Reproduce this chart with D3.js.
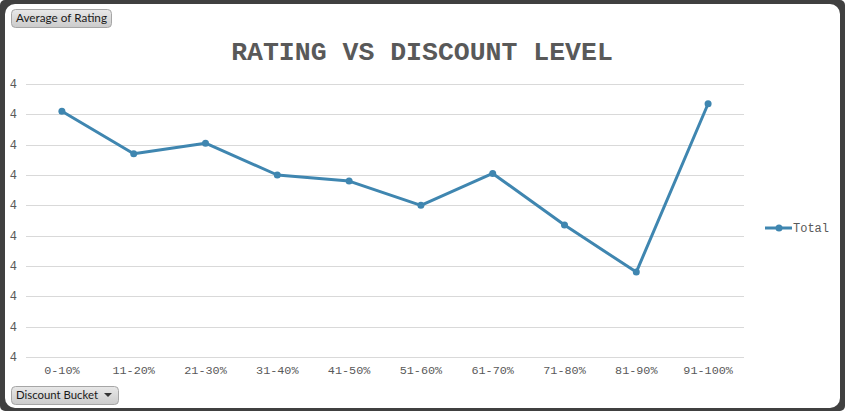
<!DOCTYPE html>
<html><head><meta charset="utf-8">
<script src="https://cdn.jsdelivr.net/npm/d3@7"></script>
<style>
html,body{margin:0;padding:0;background:#ffffff;}
svg{display:block;}
</style></head>
<body>
<script>
const categories = ["0-10%","11-20%","21-30%","31-40%","41-50%","51-60%","61-70%","71-80%","81-90%","91-100%"];
const ratingValues = [4.082,4.054,4.061,4.040,4.036,4.020,4.041,4.007,3.976,4.087];
const yTicks = [3.92,3.94,3.96,3.98,4.00,4.02,4.04,4.06,4.08,4.10];
const seriesName = "Total";
const title = "RATING VS DISCOUNT LEVEL";
const valueButton = "Average of Rating";
const axisButton = "Discount Bucket";

const W = 845, H = 411;
const color = "#3f86b0";
const mono = "'Liberation Mono','Courier New',monospace";
const ui = "Lato,'Open Sans','DejaVu Sans',sans-serif";

const svg = d3.select("body").append("svg").attr("width", W).attr("height", H);
const defs = svg.append("defs");
const grad = defs.append("linearGradient").attr("id","btn").attr("x1",0).attr("y1",0).attr("x2",0).attr("y2",1);
grad.append("stop").attr("offset","0%").attr("stop-color","#e8e8e8");
grad.append("stop").attr("offset","100%").attr("stop-color","#cbcbcb");

// frame
svg.append("rect").attr("x",0).attr("y",0).attr("width",W).attr("height",H).attr("rx",5).attr("fill","#404040");
svg.append("rect").attr("x",5).attr("y",4).attr("width",W-10).attr("height",H-7).attr("rx",10).attr("fill","#ffffff");

const x = d3.scaleBand().domain(categories).range([26, 744]).padding(0);
const y = d3.scaleLinear().domain([3.92, 4.10]).range([357, 84]);

// gridlines
svg.append("g").selectAll("line").data(yTicks).join("line")
  .attr("x1",26).attr("x2",744)
  .attr("y1",d=>Math.round(y(d))+0.5).attr("y2",d=>Math.round(y(d))+0.5)
  .attr("stroke","#d9d9d9").attr("stroke-width",1);

// y axis labels
const fmt = d3.format(".0f");
svg.append("g").selectAll("text").data(yTicks).join("text")
  .attr("x",17).attr("y",d=>y(d)+4)
  .attr("text-anchor","end")
  .attr("font-family",mono).attr("font-size",12).attr("fill","#595959")
  .text(d=>fmt(d));

// x axis labels
svg.append("g").selectAll("text").data(categories).join("text")
  .attr("x",d=>x(d)+x.bandwidth()/2).attr("y",374)
  .attr("text-anchor","middle")
  .attr("font-family",mono).attr("font-size",11.8).attr("fill","#595959")
  .text(d=>d);

// line
const pts = categories.map((c,i)=>({c, v: ratingValues[i]}));
const line = d3.line().x(d=>x(d.c)+x.bandwidth()/2).y(d=>y(d.v));
svg.append("path").datum(pts).attr("d",line)
  .attr("fill","none").attr("stroke",color).attr("stroke-width",3)
  .attr("stroke-linejoin","round").attr("stroke-linecap","round");
svg.append("g").selectAll("circle").data(pts).join("circle")
  .attr("cx",d=>x(d.c)+x.bandwidth()/2).attr("cy",d=>y(d.v)).attr("r",3.5)
  .attr("fill",color);

// title
svg.append("text").attr("x",422).attr("y",60).attr("text-anchor","middle")
  .attr("font-family",mono).attr("font-weight","bold").attr("font-size",26.5)
  .attr("fill","#595959").text(title);

// legend
const lg = svg.append("g");
lg.append("line").attr("x1",765).attr("x2",792).attr("y1",228).attr("y2",228)
  .attr("stroke",color).attr("stroke-width",3);
lg.append("circle").attr("cx",779).attr("cy",228).attr("r",3.5).attr("fill",color);
lg.append("text").attr("x",793).attr("y",231.5)
  .attr("font-family",mono).attr("font-size",12).attr("fill","#595959").text(seriesName);

// buttons
function button(bx, by, bw, bh, label, tw, arrow){
  const g = svg.append("g");
  g.append("rect").attr("x",bx+0.5).attr("y",by+0.5).attr("width",bw).attr("height",bh).attr("rx",4)
    .attr("fill","url(#btn)").attr("stroke","#a6a6a6");
  g.append("text").attr("x",bx+5).attr("y",by+bh/2+4.3)
    .attr("font-family",ui).attr("font-size",12).attr("fill","#1a1a1a")
    .attr("textLength",tw).attr("lengthAdjust","spacingAndGlyphs").text(label);
  if(arrow){
    const ax = bx+bw-10, ay = by+bh/2;
    g.append("path").attr("d",`M${ax-4},${ay-2}L${ax+4},${ay-2}L${ax},${ay+2}Z`).attr("fill","#333");
  }
}
button(11, 9, 100, 18, valueButton, 91, false);
button(11, 386, 107, 18, axisButton, 82, true);
</script>
</body></html>
